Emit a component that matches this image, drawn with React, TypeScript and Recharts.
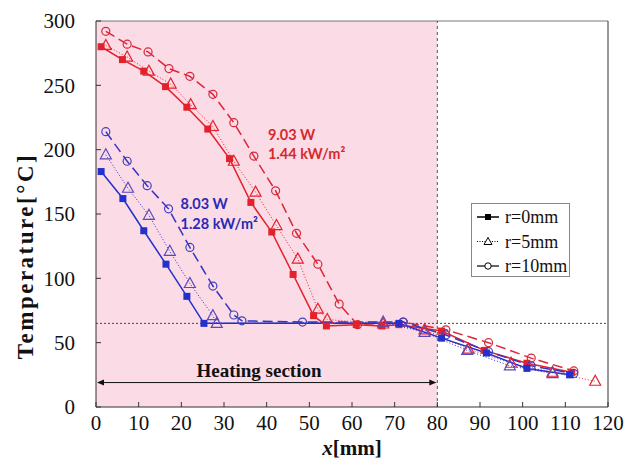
import { LineChart, Line, XAxis, YAxis, ReferenceArea, ReferenceLine, ReferenceDot, Legend, Label } from 'recharts';

const xTicks = [0, 10, 20, 30, 40, 50, 60, 70, 80, 90, 100, 110, 120];
const yTicks = [0, 50, 100, 150, 200, 250, 300];
const legendNames = ['r=0mm', 'r=5mm', 'r=10mm'];

// 9.03 W case
const red0 = [
  { x: 1.2, t: 280 }, { x: 6.2, t: 270 }, { x: 11.2, t: 261 }, { x: 16.3, t: 249 }, { x: 21.3, t: 233 },
  { x: 26.2, t: 216 }, { x: 31.3, t: 193 }, { x: 36.3, t: 159 }, { x: 41.2, t: 136 }, { x: 46.2, t: 103 },
  { x: 51, t: 71 }, { x: 54, t: 63 }, { x: 61, t: 64 }, { x: 67, t: 63 }, { x: 71, t: 64 },
  { x: 81, t: 59 }, { x: 91, t: 44 }, { x: 101, t: 34 }, { x: 111.5, t: 27 },
];
const red5 = [
  { x: 2.3, t: 281 }, { x: 7.3, t: 272 }, { x: 12.4, t: 261 }, { x: 17.5, t: 251 }, { x: 22.2, t: 235 },
  { x: 27.4, t: 218 }, { x: 32.3, t: 191 }, { x: 37.4, t: 167 }, { x: 42.3, t: 141 }, { x: 47.3, t: 115 },
  { x: 52, t: 76 }, { x: 54.2, t: 68 }, { x: 67.3, t: 64.5 }, { x: 77, t: 60 },
  { x: 87.3, t: 45 }, { x: 97.3, t: 34 }, { x: 107, t: 27 }, { x: 117, t: 20 },
];
const red10 = [
  { x: 2.3, t: 292 }, { x: 7.3, t: 282 }, { x: 12.2, t: 276 }, { x: 17.1, t: 263 }, { x: 22, t: 257 },
  { x: 27.4, t: 243 }, { x: 32.3, t: 221 }, { x: 37, t: 195 }, { x: 42.1, t: 168 }, { x: 47, t: 135 },
  { x: 52, t: 111 }, { x: 57, t: 80 }, { x: 61.3, t: 64 }, { x: 72, t: 66 },
  { x: 82, t: 60 }, { x: 92, t: 50 }, { x: 102, t: 38 }, { x: 112, t: 28 },
];

// 8.03 W case
const blue0 = [
  { x: 1.2, t: 183 }, { x: 6.3, t: 162 }, { x: 11.2, t: 137 }, { x: 16.4, t: 111 }, { x: 21.3, t: 86 },
  { x: 25.3, t: 65 }, { x: 71, t: 65 },
  { x: 81, t: 53.5 }, { x: 91.5, t: 42 }, { x: 101, t: 30 }, { x: 111, t: 25 },
];
const blue5 = [
  { x: 2.3, t: 196 }, { x: 7.5, t: 170 }, { x: 12.4, t: 149 }, { x: 17.3, t: 121 }, { x: 22, t: 96 },
  { x: 27.4, t: 71 }, { x: 28.3, t: 65 }, { x: 67.3, t: 66 },
  { x: 77, t: 58 }, { x: 87, t: 44 }, { x: 97, t: 32 }, { x: 107, t: 26 },
];
const blue10 = [
  { x: 2.3, t: 214 }, { x: 7.3, t: 191 }, { x: 12, t: 172 }, { x: 17, t: 154 }, { x: 22, t: 124 },
  { x: 27.4, t: 94 }, { x: 32.3, t: 71.5 }, { x: 34.2, t: 67 }, { x: 48.4, t: 66 }, { x: 72, t: 66 },
  { x: 82, t: 56 }, { x: 92, t: 43 }, { x: 102, t: 32 }, { x: 112, t: 26 },
];

const RED = '#e3212b';
const BLUE = '#2430cc';
const serif = '"Liberation Serif", "Times New Roman", serif';
const sans = 'Lato, "Open Sans", sans-serif';

const square = (color: string) => (p: any) =>
  p.cx == null ? <g key={p.key} /> : (
    <rect key={p.key} x={p.cx - 3.5} y={p.cy - 3.5} width={7} height={7} fill={color} />
  );
const triangle = (color: string) => (p: any) =>
  p.cx == null ? <g key={p.key} /> : (
    <polygon key={p.key} points={`${p.cx},${p.cy - 6} ${p.cx - 5.5},${p.cy + 4} ${p.cx + 5.5},${p.cy + 4}`}
      fill="none" stroke={color} strokeWidth={1.2} />
  );
const circle = (color: string) => (p: any) =>
  p.cx == null ? <g key={p.key} /> : (
    <circle key={p.key} cx={p.cx} cy={p.cy} r={4} fill="none" stroke={color} strokeWidth={1.2} />
  );

const series = [
  { id: 'red10', data: red10, color: '#d8283a', dash: '10 5', width: 1.5, dot: circle('#d8283a') },
  { id: 'red5', data: red5, color: RED, dash: '1 2', width: 1, dot: triangle(RED) },
  { id: 'red0', data: red0, color: RED, dash: undefined, width: 1.5, dot: square(RED) },
  { id: 'blue10', data: blue10, color: '#3535c0', dash: '10 5', width: 1.5, dot: circle('#4040c0') },
  { id: 'blue5', data: blue5, color: BLUE, dash: '1 2', width: 1, dot: triangle('#5a4ab8') },
  { id: 'blue0', data: blue0, color: BLUE, dash: undefined, width: 1.5, dot: square(BLUE) },
];

const note = (text: string, color: string, anchor = 'start', font = sans, size = 14.5) => (p: any) => (
  <text x={p.cx} y={p.cy} fill={color} fontFamily={font} fontSize={size} fontWeight="bold"
    textAnchor={anchor} dominantBaseline="central">{text}</text>
);

const arrow = (p: any) => {
  const { x1, y1, x2, y2 } = p;
  return (
    <g>
      <line x1={x1 + 2} y1={y1} x2={x2 - 2} y2={y2} stroke="#111" strokeWidth={1} />
      <polygon points={`${x1 + 1},${y1} ${x1 + 8},${y1 - 3} ${x1 + 8},${y1 + 3}`} fill="#111" />
      <polygon points={`${x2 - 1},${y2} ${x2 - 8},${y2 - 3} ${x2 - 8},${y2 + 3}`} fill="#111" />
    </g>
  );
};

const legendMarks = [
  (x: number, y: number) => (
    <g>
      <line x1={x} y1={y} x2={x + 22} y2={y} stroke="#000" strokeWidth={1.5} />
      <rect x={x + 8} y={y - 3} width={6} height={6} fill="#000" />
    </g>
  ),
  (x: number, y: number) => (
    <g>
      <line x1={x} y1={y} x2={x + 22} y2={y} stroke="#000" strokeWidth={1} strokeDasharray="1 1.5" />
      <polygon points={`${x + 11},${y - 4} ${x + 7},${y + 3} ${x + 15},${y + 3}`} fill="#fff" stroke="#000" />
    </g>
  ),
  (x: number, y: number) => (
    <g>
      <line x1={x} y1={y} x2={x + 22} y2={y} stroke="#000" strokeWidth={1.2} />
      <circle cx={x + 11} cy={y} r={3.2} fill="#fff" stroke="#000" />
    </g>
  ),
];

const LegendBox = () => (
  <div style={{ width: 99, height: 74, border: '1px solid #888', background: '#fff', boxSizing: 'border-box' }}>
    <svg width={97} height={72}>
      {legendNames.map((n, i) => (
        <g key={n}>
          {legendMarks[i](5, 13 + i * 24.5)}
          <text x={33} y={13 + i * 24.5} dominantBaseline="central" fontFamily={serif} fontSize={18} fill="#111">{n}</text>
        </g>
      ))}
    </svg>
  </div>
);

const XTitle = (p: any) => {
  const { x, y, width } = p.viewBox;
  return (
    <text x={x + width / 2} y={y + 48} textAnchor="middle" fontFamily={serif} fontSize={21} fontWeight="bold" fill="#111">
      <tspan fontStyle="italic">x</tspan>[mm]
    </text>
  );
};

const YTitle = () => (
  <text x={25} y={256} transform="rotate(-90, 25, 256)" textAnchor="middle" dominantBaseline="central"
    fontFamily={serif} fontSize={23} fontWeight="bold" fill="#111" letterSpacing={2.5}>
    Temperature[°C]
  </text>
);

export default function App() {
  return (
    <div style={{ position: 'absolute', left: 0, top: 0, background: '#fff' }}>
      <LineChart width={627} height={468} margin={{ top: 21, right: 19, bottom: 0, left: 0 }}>
        <ReferenceArea x1={0} x2={80} y1={0} y2={300} fill="#fbdbe6" fillOpacity={1} stroke="none" />
        <XAxis type="number" dataKey="x" domain={[0, 120]} ticks={xTicks} interval={0} height={61}
          tickSize={-5} tickMargin={13} stroke="#333" axisLine={{ stroke: '#333' }}
          tick={{ fontFamily: serif, fontSize: 21, fill: '#111' }}>
          <Label content={XTitle} />
        </XAxis>
        <YAxis type="number" dataKey="t" domain={[0, 300]} ticks={yTicks} interval={0} width={96}
          tickSize={-5} tickMargin={26} stroke="#333" axisLine={{ stroke: '#333' }}
          tick={{ fontFamily: serif, fontSize: 21, fill: '#111' }}>
          <Label content={YTitle} />
        </YAxis>
        <ReferenceLine y={300} stroke="#777" />
        <ReferenceLine x={120} stroke="#333" />
        <ReferenceLine y={65} stroke="#444" strokeDasharray="2 2" />
        <ReferenceLine x={80} stroke="#555" strokeDasharray="3 3" />
        <ReferenceLine segment={[{ x: 0, y: 19 }, { x: 80, y: 19 }]} shape={arrow} />
        <ReferenceDot x={38.2} y={28} r={0} shape={note('Heating section', '#111', 'middle', serif, 19)} />
        <ReferenceDot x={40.3} y={212} r={0} shape={note('9.03 W', '#d42a2a')} />
        <ReferenceDot x={40.3} y={197} r={0} shape={note('1.44 kW/m²', '#d42a2a')} />
        <ReferenceDot x={19.8} y={158} r={0} shape={note('8.03 W', '#2a2ab4')} />
        <ReferenceDot x={19.8} y={143} r={0} shape={note('1.28 kW/m²', '#2a2ab4')} />
        {series.map((s) => (
          <Line key={s.id} data={s.data} dataKey="t" type="linear" stroke={s.color} strokeWidth={s.width}
            strokeDasharray={s.dash} dot={s.dot} activeDot={false} isAnimationActive={false} legendType="none" />
        ))}
        <Legend layout="vertical" align="center" verticalAlign="middle" content={LegendBox}
          wrapperStyle={{ position: 'absolute', left: 471, top: 203, width: 99, height: 74 }} />
      </LineChart>
    </div>
  );
}
